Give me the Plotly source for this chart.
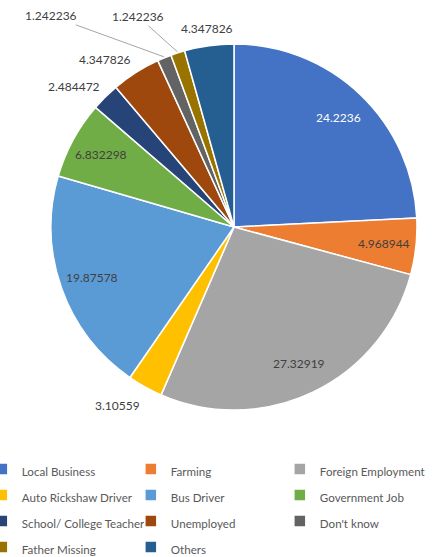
import math
import plotly.graph_objects as go

categories = ["Local Business", "Farming", "Foreign Employment", "Auto Rickshaw Driver",
              "Bus Driver", "Government Job", "School/ College Teacher", "Unemployed",
              "Don't know", "Father Missing", "Others"]
values = [24.2236, 4.968944, 27.32919, 3.10559, 19.87578, 6.832298, 2.484472,
          4.347826, 1.242236, 1.242236, 4.347826]
value_labels = ["24.2236", "4.968944", "27.32919", "3.10559", "19.87578", "6.832298",
                "2.484472", "4.347826", "1.242236", "1.242236", "4.347826"]
colors = ["#4472C4", "#ED7D31", "#A5A5A5", "#FFC000", "#5B9BD5", "#70AD47",
          "#264478", "#9E480E", "#636363", "#997300", "#255E91"]
# label placement style per slice: "in" = inside at 0.825 r, "out" = outside with
# pixel shift from the slice edge, "lead" = outside with a leader line
label_mode = ["in", "in", "in", "out", "in", "in", "out", "out", "lead", "lead", "out"]
label_shift = [(0, 0), (0, 0), (0, 0), (-27, -18), (0, 0), (0, 0), (-31, 10),
               (-30, 12), (-113, -41), (-39, -35), (-2, 16)]
label_colors = ["#FFFFFF", "#404040", "#404040", "#404040", "#404040", "#404040",
                "#404040", "#404040", "#404040", "#404040", "#404040"]

W, H = 443, 557
MB = 120
HP = H - MB
dom_x = [0.1151, 0.9413]
dom_y = [0.0618, 0.8993]

legend_names = ['<span style="font-size:11.6px">%s</span>' % c for c in categories]

fig = go.Figure(go.Pie(
    labels=legend_names, values=values, textinfo="none",
    sort=False, direction="clockwise", rotation=0,
    marker=dict(colors=colors, line=dict(color="white", width=1.5)),
    domain=dict(x=dom_x, y=dom_y),
    hoverinfo="value",
))

# data labels placed around the slices (angles derived from the values)
total = sum(values)
cx = (dom_x[0] + dom_x[1]) / 2
cy = (dom_y[0] + dom_y[1]) / 2
r_px = min((dom_x[1] - dom_x[0]) * W, (dom_y[1] - dom_y[0]) * HP) / 2
for i, v in enumerate(values):
    mid = (sum(values[:i]) + v / 2) / total * 2 * math.pi
    font = dict(family="Lato", size=12, color=label_colors[i])
    mode = label_mode[i]
    rr = 0.825 * r_px if mode == "in" else r_px + 1
    px = cx + math.sin(mid) * rr / W
    py = cy + math.cos(mid) * rr / HP
    dx, dy = label_shift[i]
    if mode == "lead":
        fig.add_annotation(x=px, y=py, xref="paper", yref="paper", text=value_labels[i],
                           showarrow=True, arrowhead=0, arrowwidth=1, arrowcolor="#A6A6A6",
                           ax=dx, ay=dy, xanchor="center", yanchor="middle", font=font)
    else:
        fig.add_annotation(x=px, y=py, xref="paper", yref="paper", text=value_labels[i],
                           showarrow=False, xshift=dx, yshift=dy,
                           xanchor="center", yanchor="middle", font=font)

fig.update_layout(
    width=W, height=H,
    margin=dict(l=0, r=0, t=0, b=MB, autoexpand=False),
    paper_bgcolor="white", plot_bgcolor="white",
    font=dict(family="Lato", size=12, color="#595959"),
    showlegend=True,
    legend=dict(orientation="h", x=-0.041, xanchor="left", y=-0.032, yanchor="top",
                entrywidth=104, entrywidthmode="pixels", itemwidth=30,
                font=dict(family="Lato", size=17.7, color="#595959")),
)

fig.write_html("out.html", config={"displayModeBar": False},
               post_script="document.body.style.margin='0';")
